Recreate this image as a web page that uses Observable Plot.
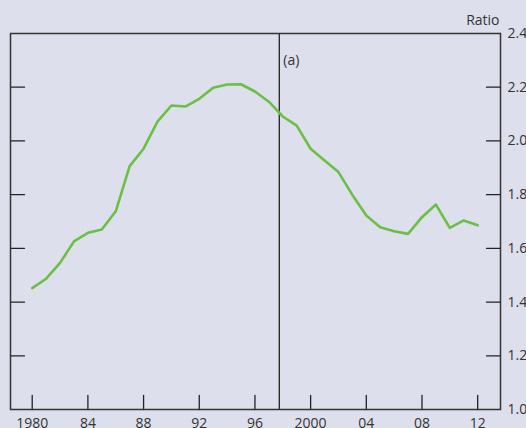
<!DOCTYPE html>
<html>
<head>
<meta charset="utf-8">
<script src="https://cdn.jsdelivr.net/npm/d3@7"></script>
<script src="https://cdn.jsdelivr.net/npm/@observablehq/plot@0.6"></script>
<style>
  html, body { margin: 0; padding: 0; background: #dde0ec; }
  #chart { width: 526px; height: 428px; }
</style>
</head>
<body>
<div id="chart"></div>
<script>
const years = [1980,1981,1982,1983,1984,1985,1986,1987,1988,1989,1990,1991,1992,1993,1994,1995,1996,1997,1998,1999,2000,2001,2002,2003,2004,2005,2006,2007,2008,2009,2010,2011,2012];
const ratio = [1.452,1.487,1.546,1.626,1.658,1.670,1.738,1.906,1.971,2.072,2.132,2.128,2.157,2.198,2.210,2.211,2.184,2.146,2.091,2.057,1.971,1.927,1.884,1.799,1.722,1.679,1.664,1.654,1.716,1.763,1.676,1.704,1.686];
const xTicks = [1980,1984,1988,1992,1996,2000,2004,2008,2012];
const xTickLabels = ["1980","84","88","92","96","2000","04","08","12"];
const yTicks = [1.0,1.2,1.4,1.6,1.8,2.0,2.2,2.4];
const yInnerTicks = [1.2,1.4,1.6,1.8,2.0,2.2];
const breakYear = 1997.75;
const xDomain = [1978.44, 2013.64];
const yDomain = [1.0, 2.4];

const data = years.map((y, i) => ({year: y, value: ratio[i]}));
const tickShape = {draw(ctx, l) { ctx.moveTo(0, 0); ctx.lineTo(0, -l); }};

const chart = Plot.plot({
  width: 526,
  height: 428,
  marginLeft: 10,
  marginRight: 26,
  marginTop: 33,
  marginBottom: 19,
  style: {background: "#dde0ec", fontFamily: "'Open Sans', sans-serif", fontSize: "14px", color: "#333"},
  x: {domain: xDomain},
  y: {domain: yDomain},
  marks: [
    Plot.axisX(xTicks, {anchor: "bottom", tickSize: 0, tickPadding: 9, label: null,
      tickFormat: d => xTickLabels[xTicks.indexOf(d)], fontSize: 14, fill: "#333"}),
    Plot.axisY(yTicks, {anchor: "right", tickSize: 0, tickPadding: 7, label: null,
      tickFormat: d => d.toFixed(1), fontSize: 14, fill: "#333", textAnchor: "start"}),
    Plot.vector(xTicks, {x: d => d, y: yDomain[0], length: 14, rotate: 0, anchor: "start", shape: tickShape, stroke: "#222", strokeWidth: 1.3}),
    Plot.vector(yInnerTicks, {x: xDomain[0], y: d => d, length: 14, rotate: 90, anchor: "start", shape: tickShape, stroke: "#222", strokeWidth: 1.3}),
    Plot.vector(yInnerTicks, {x: xDomain[1], y: d => d, length: 14, rotate: -90, anchor: "start", shape: tickShape, stroke: "#222", strokeWidth: 1.3}),
    Plot.ruleX([breakYear], {stroke: "#222", strokeWidth: 1.3}),
    Plot.text(["(a)"], {x: breakYear, y: yDomain[1], dx: 4, dy: 27, textAnchor: "start", fontSize: 14, fill: "#333"}),
    Plot.text(["Ratio"], {x: xDomain[1], y: yDomain[1], dx: -1, dy: -13, textAnchor: "end", fontSize: 14, fill: "#333"}),
    Plot.line(data, {x: "year", y: "value", stroke: "#6cbf45", strokeWidth: 2.6}),
    Plot.frame({stroke: "#333", strokeWidth: 1.5})
  ]
});
document.getElementById("chart").appendChild(chart);
</script>
</body>
</html>
